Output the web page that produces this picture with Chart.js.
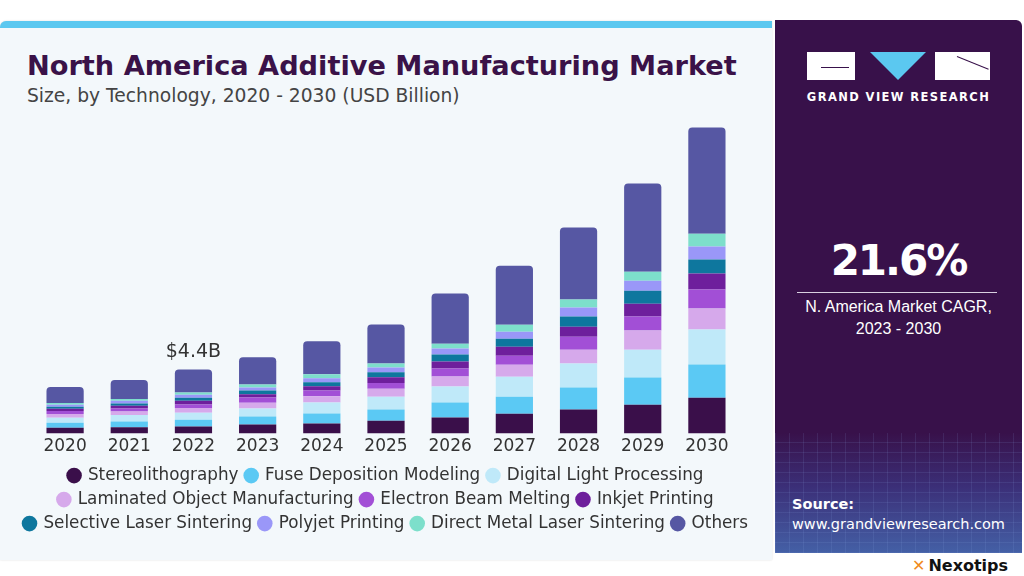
<!DOCTYPE html>
<html>
<head>
<meta charset="utf-8">
<script src="https://cdn.jsdelivr.net/npm/chart.js@4.4.0/dist/chart.umd.min.js"></script>
<style>
  body { margin: 0; width: 1024px; height: 576px; background: #ffffff; font-family: "DejaVu Sans", sans-serif; position: relative; overflow: hidden; }
  .card { position: absolute; left: 0; top: 21px; width: 772px; height: 532px; background: #f3f8fb; border-top: 7px solid #5bc8f0; border-top-left-radius: 6px; box-shadow: 0 0 2px rgba(0,0,0,0.15); }
  .title { position: absolute; left: 27px; top: 50px; font-size: 27.2px; font-weight: 700; color: #3a1248; white-space: nowrap; }
  .subtitle { position: absolute; left: 27px; top: 85px; font-size: 18.7px; color: #444; white-space: nowrap; }
  #chartBox { position: absolute; left: 0; top: 100px; }
  .panel { position: absolute; left: 775px; top: 20px; width: 247px; height: 533px; background: #38114a; border-top-right-radius: 6px; overflow: hidden; }
  .mesh { position: absolute; left: 0; right: 0; bottom: 0; height: 120px;
    background:
      repeating-linear-gradient(90deg, rgba(140,170,230,0.12) 0 1px, transparent 1px 14px),
      repeating-linear-gradient(0deg, rgba(140,170,230,0.12) 0 1px, transparent 1px 10px),
      linear-gradient(180deg, #38114a 0%, #3b2f78 45%, #4460a6 100%); }
  .logo { position: absolute; top: 32px; height: 28px; background: #fff; overflow: hidden; }
  .tri { position: absolute; top: 32px; left: 95px; width: 0; height: 0; border-left: 28px solid transparent; border-right: 28px solid transparent; border-top: 28px solid #5bc8f0; }
  .brand { position: absolute; top: 70px; left: 0; width: 247px; text-align: center; color: #fff; font-size: 11.5px; font-weight: 700; letter-spacing: 1.4px; }
  .cagr { position: absolute; top: 216px; left: 0; width: 247px; text-align: center; color: #fff; font-size: 42px; font-weight: 700; letter-spacing: -2px; }
  .rule { position: absolute; top: 272px; left: 22px; width: 200px; height: 1px; background: #d8d0e0; }
  .cagrText { position: absolute; top: 276px; left: 0; width: 247px; text-align: center; color: #fff; font-size: 16px; line-height: 22px; font-family: "Liberation Sans", sans-serif; }
  .source { position: absolute; left: 17px; top: 474px; color: #fff; font-size: 14.5px; line-height: 20px; }
  .nexo { position: absolute; left: 912px; top: 556px; font-size: 16px; font-weight: 700; color: #111; }
  .nexo span { color: #f08a1c; margin-right: 3px; }
</style>
</head>
<body>
<div class="card"></div>
<div class="title">North America Additive Manufacturing Market</div>
<div class="subtitle">Size, by Technology, 2020 - 2030 (USD Billion)</div>
<div id="chartBox"><canvas id="marketChart" width="772" height="448"></canvas></div>

<div class="panel">
  <div class="mesh"></div>
  <div class="logo" style="left:32px;width:48px;"><div style="position:absolute;left:14px;top:15px;width:28px;height:1px;background:#38114a;"></div></div>
  <div class="tri"></div>
  <div class="logo" style="left:160px;width:55px;"><div style="position:absolute;left:22px;top:4px;width:34px;height:1px;background:#38114a;transform:rotate(22deg);transform-origin:left;"></div></div>
  <div class="brand">GRAND VIEW RESEARCH</div>
  <div class="cagr">21.6%</div>
  <div class="rule"></div>
  <div class="cagrText">N. America Market CAGR,<br>2023 - 2030</div>
  <div class="source"><b>Source:</b><br>www.grandviewresearch.com</div>
</div>
<div class="nexo"><span>✕</span>Nexotips</div>

<script>
// years on the x axis
const years = ["2020", "2021", "2022", "2023", "2024", "2025", "2026", "2027", "2028", "2029", "2030"];

// market size per technology, USD billion
const stereolithography = [0.41, 0.43, 0.48, 0.62, 0.69, 0.89, 1.10, 1.37, 1.65, 1.99, 2.47];
const fuseDeposition    = [0.34, 0.40, 0.48, 0.55, 0.69, 0.76, 1.03, 1.17, 1.51, 1.86, 2.27];
const digitalLight      = [0.34, 0.45, 0.48, 0.55, 0.76, 0.89, 1.10, 1.37, 1.65, 1.92, 2.41];
const laminatedObject   = [0.26, 0.24, 0.32, 0.40, 0.43, 0.55, 0.69, 0.82, 0.96, 1.31, 1.44];
const electronBeam      = [0.20, 0.21, 0.24, 0.36, 0.40, 0.38, 0.55, 0.62, 0.89, 0.96, 1.31];
const inkjetPrinting    = [0.15, 0.19, 0.26, 0.22, 0.28, 0.40, 0.48, 0.62, 0.69, 0.89, 1.10];
const laserSintering    = [0.14, 0.15, 0.21, 0.26, 0.28, 0.34, 0.48, 0.55, 0.69, 0.89, 0.96];
const polyjetPrinting   = [0.14, 0.18, 0.20, 0.21, 0.27, 0.33, 0.41, 0.48, 0.62, 0.69, 0.89];
const directMetal       = [0.13, 0.13, 0.15, 0.21, 0.27, 0.28, 0.34, 0.48, 0.55, 0.62, 0.89];
const others            = [1.10, 1.31, 1.58, 1.86, 2.27, 2.68, 3.44, 4.05, 4.95, 6.05, 7.29];

// the one bar that carries a value label
const labelYear = "2022";
const labelText = "$4.4B";

const series = [
    { label: "Stereolithography", data: stereolithography, color: "#3a0f4a" },
    { label: "Fuse Deposition Modeling", data: fuseDeposition, color: "#5bc9f4" },
    { label: "Digital Light Processing", data: digitalLight, color: "#bfe9f9" },
    { label: "Laminated Object Manufacturing", data: laminatedObject, color: "#d6a9eb" },
    { label: "Electron Beam Melting", data: electronBeam, color: "#a24fd6" },
    { label: "Inkjet Printing", data: inkjetPrinting, color: "#6e1f9c" },
    { label: "Selective Laser Sintering", data: laserSintering, color: "#0e779e" },
    { label: "Polyjet Printing", data: polyjetPrinting, color: "#9a97f8" },
    { label: "Direct Metal Laser Sintering", data: directMetal, color: "#7ddfcb" },
    { label: "Others", data: others, color: "#5657a3" }
];

// draw "$4.4B" above the stacked total
const totalLabel = {
    id: "totalLabel",
    afterDatasetsDraw(chart) {
        const i = years.indexOf(labelYear);
        const top = chart.getDatasetMeta(series.length - 1).data[i];
        const c = chart.ctx;
        c.save();
        c.font = "19px 'DejaVu Sans'";
        c.fillStyle = "#333";
        c.textAlign = "center";
        c.textBaseline = "bottom";
        c.fillText(labelText, top.x, top.y - 8);
        c.restore();
    }
};

const hiddenAxis = (pos) => ({
    position: pos,
    display: true,
    min: 0,
    max: 22.1,
    stacked: true,
    ticks: { display: false },
    grid: { display: false, drawTicks: false },
    border: { display: false },
    afterFit(scale) { scale.width = 33; }
});

const ctx = document.getElementById("marketChart").getContext("2d");
const marketChart = new Chart(ctx, {
    type: "bar",
    data: {
        labels: years,
        datasets: series.map((s, k) => ({
            label: s.label,
            data: s.data,
            backgroundColor: s.color,
            borderWidth: 0,
            borderRadius: k === series.length - 1 ? { topLeft: 4, topRight: 4 } : 0,
            borderSkipped: false,
            categoryPercentage: 1,
            barPercentage: 0.58,
            yAxisID: "y"
        }))
    },
    options: {
        responsive: false,
        animation: false,
        layout: { padding: { top: 12, bottom: 6 } },
        plugins: {
            legend: {
                position: "bottom",
                labels: {
                    usePointStyle: true,
                    pointStyle: "circle",
                    boxWidth: 11,
                    boxHeight: 11,
                    padding: 7.2,
                    color: "#333",
                    font: { family: "DejaVu Sans", size: 16.8 }
                }
            },
            tooltip: { enabled: false }
        },
        scales: {
            x: {
                stacked: true,
                grid: { display: false, drawTicks: false },
                border: { display: false },
                ticks: { color: "#333", padding: 3, font: { family: "DejaVu Sans", size: 17 } }
            },
            y: hiddenAxis("left"),
            y2: hiddenAxis("right")
        }
    },
    plugins: [totalLabel]
});
</script>
</body>
</html>
